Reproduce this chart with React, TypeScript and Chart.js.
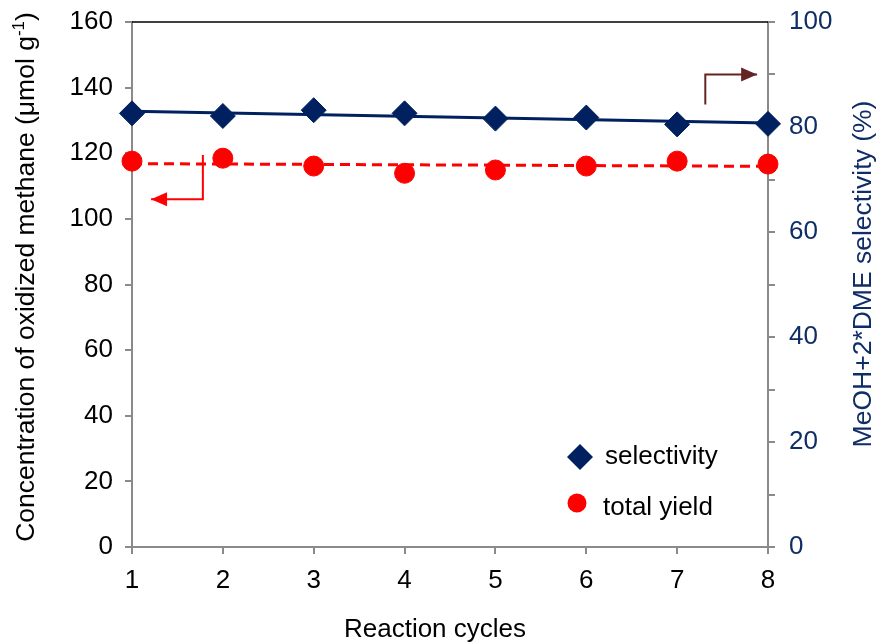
import React, { useEffect, useRef } from "react";
import { Chart, registerables } from "chart.js";

Chart.register(...registerables);

// ---- data ----
const cycles = [1, 2, 3, 4, 5, 6, 7, 8];
const selectivity = [82.6, 82.1, 83.2, 82.6, 81.6, 81.8, 80.5, 80.6]; // %  (right axis)
const totalYield = [117.6, 118.5, 116.1, 113.9, 114.9, 116.1, 117.6, 116.7]; // µmol g-1 (left axis)
const leftRange = [0, 160];
const rightRange = [0, 100];
const xRange = [1, 8];

const FONT = '"Liberation Sans", Arial, sans-serif';
const NAVY = "#002060";
const NAVY_TXT = "#0f2d66";
const RED = "#ff0000";
const DARKRED = "#632523";
const AXIS_GRAY = "#8a8a8a";

function linFit(xs: number[], ys: number[]) {
  const n = xs.length;
  const mx = xs.reduce((a, b) => a + b, 0) / n;
  const my = ys.reduce((a, b) => a + b, 0) / n;
  let sxy = 0, sxx = 0;
  for (let i = 0; i < n; i++) {
    sxy += (xs[i] - mx) * (ys[i] - my);
    sxx += (xs[i] - mx) * (xs[i] - mx);
  }
  const slope = sxy / sxx;
  const b = my - slope * mx;
  return (x: number) => slope * x + b;
}

const decorPlugin = {
  id: "decor",
  afterDraw(chart: any) {
    const ctx = chart.ctx as CanvasRenderingContext2D;
    const ca = chart.chartArea;
    const sx = chart.scales.x;
    const sy = chart.scales.y;
    const sy2 = chart.scales.y2;
    ctx.save();

    // top border
    ctx.strokeStyle = "#000";
    ctx.lineWidth = 1.5;
    ctx.beginPath();
    ctx.moveTo(ca.left, ca.top);
    ctx.lineTo(ca.right, ca.top);
    ctx.stroke();

    // arrows
    const arrow = (pts: number[][], color: string, dir: number) => {
      ctx.strokeStyle = color;
      ctx.fillStyle = color;
      ctx.lineWidth = 2;
      ctx.beginPath();
      ctx.moveTo(pts[0][0], pts[0][1]);
      for (let i = 1; i < pts.length; i++) ctx.lineTo(pts[i][0], pts[i][1]);
      ctx.stroke();
      const [tx, ty] = pts[pts.length - 1];
      ctx.beginPath();
      ctx.moveTo(tx, ty);
      ctx.lineTo(tx - dir * 16, ty - 7);
      ctx.lineTo(tx - dir * 16, ty + 7);
      ctx.closePath();
      ctx.fill();
    };
    // red arrow -> left axis
    arrow(
      [
        [sx.getPixelForValue(1.78), sy.getPixelForValue(119.5)],
        [sx.getPixelForValue(1.78), sy.getPixelForValue(106)],
        [sx.getPixelForValue(1.21), sy.getPixelForValue(106)],
      ],
      RED,
      -1
    );
    // dark red arrow -> right axis
    arrow(
      [
        [sx.getPixelForValue(7.31), sy2.getPixelForValue(84.3)],
        [sx.getPixelForValue(7.31), sy2.getPixelForValue(90)],
        [sx.getPixelForValue(7.88), sy2.getPixelForValue(90)],
      ],
      DARKRED,
      1
    );

    // legend
    ctx.fillStyle = NAVY;
    const dx = 580, dy = 457, dr = 13;
    ctx.beginPath();
    ctx.moveTo(dx - dr, dy);
    ctx.lineTo(dx, dy - dr);
    ctx.lineTo(dx + dr, dy);
    ctx.lineTo(dx, dy + dr);
    ctx.closePath();
    ctx.fill();
    ctx.fillStyle = RED;
    ctx.beginPath();
    ctx.arc(577, 503, 9.5, 0, Math.PI * 2);
    ctx.fill();
    ctx.fillStyle = "#000";
    ctx.font = `26px ${FONT}`;
    ctx.textAlign = "left";
    ctx.textBaseline = "alphabetic";
    ctx.fillText("selectivity", 605, 464);
    ctx.fillText("total yield", 603, 515);

    // x title
    ctx.textAlign = "center";
    ctx.fillText("Reaction cycles", 435, 637);

    // left title with superscript
    {
      const main = "Concentration of oxidized methane (\u03bcmol g";
      const sup = "-1";
      const end = ")";
      const big = `26.5px ${FONT}`;
      const small = `17px ${FONT}`;
      ctx.font = big;
      const w1 = ctx.measureText(main).width;
      const w3 = ctx.measureText(end).width;
      ctx.font = small;
      const w2 = ctx.measureText(sup).width;
      const total = w1 + w2 + w3;
      ctx.save();
      ctx.translate(34, 277);
      ctx.rotate(-Math.PI / 2);
      ctx.textAlign = "left";
      ctx.fillStyle = "#000";
      let x0 = -total / 2;
      ctx.font = big;
      ctx.fillText(main, x0, 0);
      x0 += w1;
      ctx.font = small;
      ctx.fillText(sup, x0, -10);
      x0 += w2;
      ctx.font = big;
      ctx.fillText(end, x0, 0);
      ctx.restore();
    }

    // right title
    {
      ctx.save();
      ctx.translate(871, 274);
      ctx.rotate(-Math.PI / 2);
      ctx.textAlign = "center";
      ctx.fillStyle = NAVY_TXT;
      ctx.font = `26.5px ${FONT}`;
      ctx.fillText("MeOH+2*DME selectivity (%)", 0, 0);
      ctx.restore();
    }

    ctx.restore();
  },
};

export default function App() {
  const ref = useRef<HTMLCanvasElement | null>(null);

  useEffect(() => {
    document.body.style.margin = "0";
    const canvas = ref.current!;
    const fSel = linFit(cycles, selectivity);
    const fYld = linFit(cycles, totalYield);

    const fitY = (w: number) => (s: any) => {
      s.width = w;
      s.paddingTop = 0;
      s.paddingBottom = 0;
    };

    const chart = new Chart(canvas, {
      type: "scatter",
      data: {
        datasets: [
          {
            label: "selectivity",
            data: cycles.map((c, i) => ({ x: c, y: selectivity[i] })),
            yAxisID: "y2",
            pointStyle: "rectRot",
            pointRadius: 12.5,
            pointBackgroundColor: NAVY,
            pointBorderColor: NAVY,
            pointBorderWidth: 1,
            showLine: false,
            clip: false,
          },
          {
            label: "total yield",
            data: cycles.map((c, i) => ({ x: c, y: totalYield[i] })),
            yAxisID: "y",
            pointStyle: "circle",
            pointRadius: 10,
            pointBackgroundColor: RED,
            pointBorderColor: RED,
            pointBorderWidth: 1,
            showLine: false,
            clip: false,
          },
          {
            label: "sel trend",
            data: [xRange[0], xRange[1]].map((x) => ({ x, y: fSel(x) })),
            yAxisID: "y2",
            showLine: true,
            borderColor: NAVY,
            borderWidth: 3,
            pointRadius: 0,
            clip: false,
          },
          {
            label: "yield trend",
            data: [xRange[0], xRange[1]].map((x) => ({ x, y: fYld(x) })),
            yAxisID: "y",
            showLine: true,
            borderColor: RED,
            borderWidth: 3,
            borderDash: [10, 6],
            pointRadius: 0,
            clip: false,
          },
        ],
      },
      options: {
        responsive: false,
        animation: false,
        devicePixelRatio: 1,
        layout: { padding: { top: 22, left: 0, right: 0, bottom: 0 } },
        plugins: { legend: { display: false }, tooltip: { enabled: false } },
        scales: {
          x: {
            type: "linear",
            position: "bottom",
            min: xRange[0],
            max: xRange[1],
            ticks: {
              stepSize: 1,
              autoSkip: false,
              maxRotation: 0,
              padding: 11,
              color: "#000",
              font: { family: FONT, size: 26 },
            },
            grid: { drawOnChartArea: false, drawTicks: true, tickLength: 7, color: AXIS_GRAY, lineWidth: 2 },
            border: { color: AXIS_GRAY, width: 2 },
            afterFit: (s: any) => {
              s.height = 95;
              s.paddingLeft = 0;
              s.paddingRight = 0;
            },
          },
          y: {
            position: "left",
            min: leftRange[0],
            max: leftRange[1],
            ticks: {
              stepSize: 10,
              padding: 12,
              color: "#000",
              font: { family: FONT, size: 26 },
              callback: (v: any) => (v % 20 === 0 ? String(v) : ""),
            },
            grid: { drawOnChartArea: false, drawTicks: true, tickLength: 7, color: AXIS_GRAY, lineWidth: 2 },
            border: { color: AXIS_GRAY, width: 2 },
            afterFit: fitY(132),
          },
          y2: {
            position: "right",
            min: rightRange[0],
            max: rightRange[1],
            ticks: {
              stepSize: 10,
              padding: 14,
              color: NAVY_TXT,
              font: { family: FONT, size: 26 },
              callback: (v: any) => (v % 20 === 0 ? String(v) : ""),
            },
            grid: { drawOnChartArea: false, drawTicks: true, tickLength: 7, color: AXIS_GRAY, lineWidth: 2 },
            border: { color: AXIS_GRAY, width: 2 },
            afterFit: fitY(113),
          },
        },
      },
      plugins: [decorPlugin],
    } as any);

    return () => chart.destroy();
  }, []);

  return (
    <div style={{ width: 881, height: 642 }}>
      <canvas ref={ref} width={881} height={642} style={{ display: "block" }} />
    </div>
  );
}
